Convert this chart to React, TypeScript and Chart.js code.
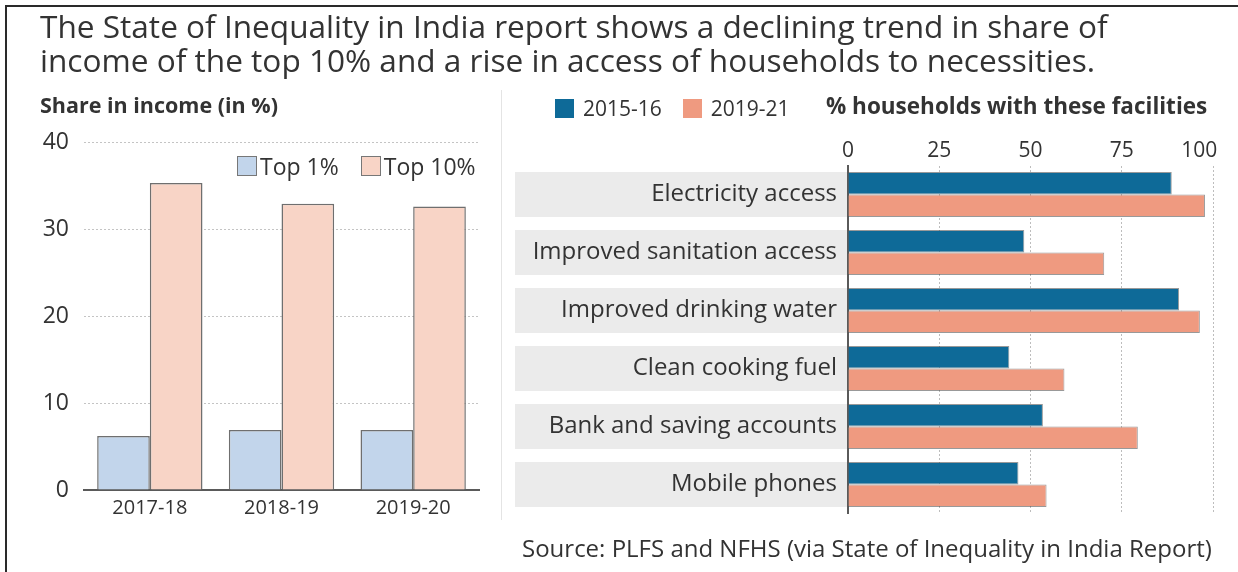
import React, { useEffect, useRef } from "react";
import { Chart, registerables } from "chart.js";

Chart.register(...registerables);

// ---------- data ----------
const incomeYears = ["2017-18", "2018-19", "2019-20"];
const top1Share = [6.2, 6.9, 6.9];
const top10Share = [35.3, 32.9, 32.6];
const incomeTicks = [0, 10, 20, 30, 40];

const facilities = [
  "Electricity access",
  "Improved sanitation access",
  "Improved drinking water",
  "Clean cooking fuel",
  "Bank and saving accounts",
  "Mobile phones",
];
const share2015 = [88.7, 48.3, 90.7, 44.2, 53.4, 46.7];
const share2019 = [97.8, 70.2, 96.4, 59.3, 79.4, 54.4];
const facilityTicks = [0, 25, 50, 75, 100];

const FONT = "'Open Sans', 'Noto Sans', sans-serif";
const TEXT = "#333333";

const incomeSeries = [
  { label: "Top 1%", data: top1Share, color: "#c2d5eb" },
  { label: "Top 10%", data: top10Share, color: "#f8d4c6" },
];
const facilitySeries = [
  { label: "2015-16", data: share2015, color: "#0e6a98" },
  { label: "2019-21", data: share2019, color: "#ef9a80" },
];

function IncomeChart() {
  const ref = useRef<HTMLCanvasElement>(null);
  useEffect(() => {
    const chart = new Chart(ref.current!, {
      type: "bar",
      data: {
        labels: incomeYears,
        datasets: incomeSeries.map((s) => ({
          label: s.label,
          data: s.data,
          backgroundColor: s.color,
          borderColor: "#6f6f6f",
          borderWidth: 1.5,
          categoryPercentage: 0.8,
          barPercentage: 1.0,
        })),
      },
      options: {
        animation: false,
        responsive: false,
        maintainAspectRatio: false,
        layout: { padding: { left: 0, right: 21, top: 142, bottom: 0 } },
        plugins: { legend: { display: false }, tooltip: { enabled: false } },
        scales: {
          x: {
            grid: { display: false, drawTicks: false },
            border: { display: true, color: "#5a5a5a", width: 2 },
            ticks: { color: TEXT, font: { family: FONT, size: 20 }, padding: 6 },
            afterFit: (s: any) => { s.height = 82; },
          },
          y: {
            min: 0,
            max: 40,
            afterBuildTicks: (s: any) => { s.ticks = incomeTicks.map((v) => ({ value: v })); },
            grid: { color: (c: any) => (c.tick && c.tick.value === 0 ? "rgba(0,0,0,0)" : "#c4c4c4"), lineWidth: 1, drawTicks: false },
            border: { display: false, dash: [2, 2] },
            ticks: { color: TEXT, font: { family: FONT, size: 23 }, padding: 15 },
            afterFit: (s: any) => { s.width = 84; },
          },
        },
      },
    });
    return () => chart.destroy();
  }, []);
  return <canvas ref={ref} width={500} height={572} style={{ position: "absolute", left: 0, top: 0, width: 500, height: 572 }} />;
}

const bandPlugin = {
  id: "bands",
  beforeDraw(chart: any) {
    const { ctx, chartArea, scales } = chart;
    const y = scales.y;
    const pitch = Math.abs(y.getPixelForValue(1) - y.getPixelForValue(0));
    const h = pitch * 0.776;
    ctx.save();
    ctx.fillStyle = "#ebebeb";
    facilities.forEach((_, i) => {
      const c = y.getPixelForValue(i);
      ctx.fillRect(15, c - h / 2, chartArea.left - 15, h);
    });
    ctx.restore();
  },
};

function FacilityChart() {
  const ref = useRef<HTMLCanvasElement>(null);
  useEffect(() => {
    const chart = new Chart(ref.current!, {
      type: "bar",
      data: {
        labels: facilities,
        datasets: facilitySeries.map((s) => ({
          label: s.label,
          data: s.data,
          backgroundColor: s.color,
          borderColor: "rgba(70,70,70,0.55)",
          borderWidth: 1,
          categoryPercentage: 0.776,
          barPercentage: 1.0,
        })),
      },
      plugins: [bandPlugin],
      options: {
        indexAxis: "y",
        animation: false,
        responsive: false,
        maintainAspectRatio: false,
        layout: { padding: { left: 0, right: 25, top: 0, bottom: 58.5 } },
        plugins: { legend: { display: false }, tooltip: { enabled: false } },
        scales: {
          x: {
            position: "top",
            min: 0,
            max: 100,
            afterBuildTicks: (s: any) => { s.ticks = facilityTicks.map((v) => ({ value: v })); },
            grid: { color: (c: any) => (c.tick && c.tick.value === 0 ? "rgba(0,0,0,0)" : "#bdbdbd"), lineWidth: 1, drawTicks: false },
            border: { display: false, dash: [2, 2] },
            ticks: {
              color: TEXT,
              font: { family: FONT, size: 21 },
              padding: 2,
              callback: (v: any) => (v === 100 ? "100     " : String(v)),
            },
            afterFit: (s: any) => {
              s.height = 165.5;
              s.paddingLeft = 0;
              s.paddingRight = 0;
            },
          },
          y: {
            grid: { display: false, drawTicks: false },
            border: { display: true, color: "#5a5a5a", width: 2 },
            ticks: { color: TEXT, font: { family: FONT, size: 24 }, padding: 11 },
            afterFit: (s: any) => { s.width = 348; },
          },
        },
      },
    });
    return () => chart.destroy();
  }, []);
  return <canvas ref={ref} width={738} height={572} style={{ position: "absolute", left: 500, top: 0, width: 738, height: 572 }} />;
}

const box = (size: number, color: string, border: string) => ({
  display: "inline-block",
  width: size,
  height: size,
  background: color,
  border: `1.5px solid ${border}`,
  boxSizing: "border-box" as const,
  verticalAlign: "middle",
});

export default function App() {
  return (
    <div style={{ position: "absolute", left: 0, top: 0, width: 1238, height: 572, background: "#fff", overflow: "hidden", fontFamily: FONT, color: TEXT }}>
      {/* frame */}
      <div style={{ position: "absolute", left: 5, top: 5, width: 1233, height: 2, background: "#2a2a2a" }} />
      <div style={{ position: "absolute", left: 5, top: 5, width: 2, height: 567, background: "#2a2a2a" }} />
      {/* separator */}
      <div style={{ position: "absolute", left: 501, top: 90, width: 1, height: 430, background: "#e4e4e4" }} />

      <IncomeChart />
      <FacilityChart />

      {/* title */}
      <div style={{ position: "absolute", left: 40, top: 9, fontSize: 31.6, lineHeight: "34px", whiteSpace: "nowrap", color: "#333" }}>
        The State of Inequality in India report shows a declining trend in share of
        <br />
        income of the top 10% and a rise in access of households to necessities.
      </div>

      {/* left subtitle */}
      <div style={{ position: "absolute", left: 40, top: 91, fontSize: 21.5, fontWeight: 700, lineHeight: "28px", whiteSpace: "nowrap" }}>
        Share in income (in %)
      </div>

      {/* left legend */}
      <div style={{ position: "absolute", left: 237, top: 148, fontSize: 23, lineHeight: "30px", whiteSpace: "nowrap" }}>
        {incomeSeries.map((s, i) => (
          <span key={s.label} style={{ marginRight: i === 0 ? 22 : 0 }}>
            <span style={box(20, s.color, "#777")} />
            <span style={{ verticalAlign: "middle", marginLeft: 3 }}>{s.label}</span>
          </span>
        ))}
      </div>

      {/* right legend */}
      <div style={{ position: "absolute", left: 555, top: 92, fontSize: 21, lineHeight: "28px", whiteSpace: "nowrap" }}>
        {facilitySeries.map((s, i) => (
          <span key={s.label} style={{ marginRight: i === 0 ? 21 : 0 }}>
            <span style={box(19, s.color, s.color)} />
            <span style={{ verticalAlign: "middle", marginLeft: 9 }}>{s.label}</span>
          </span>
        ))}
      </div>
      <div style={{ position: "absolute", left: 826, top: 91, fontSize: 22.5, fontWeight: 700, lineHeight: "30px", whiteSpace: "nowrap" }}>
        % households with these facilities
      </div>

      {/* source */}
      <div style={{ position: "absolute", left: 522, top: 533, fontSize: 24, lineHeight: "30px", whiteSpace: "nowrap" }}>
        Source: PLFS and NFHS (via State of Inequality in India Report)
      </div>
    </div>
  );
}
